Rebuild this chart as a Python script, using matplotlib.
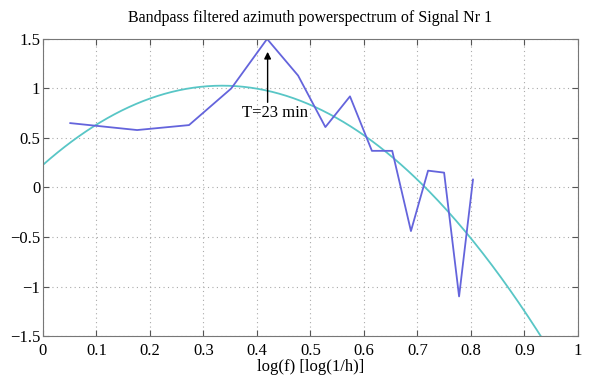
import numpy as np
import matplotlib
matplotlib.use('Agg')
import matplotlib.pyplot as plt

# blue line: spectrum values
logf = [0.051, 0.176, 0.273, 0.352, 0.419, 0.477, 0.528, 0.574, 0.615,
        0.653, 0.688, 0.720, 0.750, 0.778, 0.804]
power = [0.65, 0.58, 0.63, 1.00, 1.50, 1.13, 0.61, 0.92, 0.37,
         0.37, -0.44, 0.17, 0.15, -1.10, 0.08]

# cyan curve: smooth trend
trend_x = [0.0, 0.1, 0.2, 0.3, 0.4, 0.5, 0.6, 0.7, 0.8, 0.9, 0.933]
trend_y = [0.23, 0.63, 0.90, 1.02, 1.00, 0.84, 0.52, 0.08, -0.51, -1.27, -1.50]

xticks = [0, 0.1, 0.2, 0.3, 0.4, 0.5, 0.6, 0.7, 0.8, 0.9, 1]
xlabels = ['0', '0.1', '0.2', '0.3', '0.4', '0.5', '0.6', '0.7', '0.8', '0.9', '1']
yticks = [-1.5, -1, -0.5, 0, 0.5, 1, 1.5]
ylabels = ['\u22121.5', '\u22121', '\u22120.5', '0', '0.5', '1', '1.5']

plt.rcParams['font.family'] = ['Liberation Serif', 'DejaVu Serif']
plt.rcParams['font.size'] = 12

fig = plt.figure(figsize=(5.89, 3.78), dpi=100)
ax = fig.add_axes([0.073, 0.111, 0.908, 0.786])

# smooth trend through the sampled points
coef = np.polyfit(trend_x, trend_y, 2)
xs = np.linspace(0, 1, 300)
ax.plot(xs, np.polyval(coef, xs), color='#58c6c6', lw=1.3)
ax.plot(logf, power, color='#6464dc', lw=1.3)

# arrow + label
ax.annotate('', xy=(0.42, 1.37), xytext=(0.42, 0.86),
            arrowprops=dict(arrowstyle='-|>', color='k', lw=1.0,
                            mutation_scale=10, shrinkA=0, shrinkB=0))
ax.text(0.372, 0.75, 'T=23 min', ha='left', va='center', fontsize=12)

ax.set_xlim(0, 1)
ax.set_ylim(-1.5, 1.5)
ax.set_xticks(xticks)
ax.set_xticklabels(xlabels)
ax.set_yticks(yticks)
ax.set_yticklabels(ylabels)
ax.tick_params(direction='in', top=True, right=True, length=4,
               color='#555555')
ax.tick_params(axis='x', pad=5)
ax.tick_params(axis='y', pad=2)
ax.grid(True, linestyle=(0, (1, 3)), color='#aaaaaa', lw=0.8)
for s in ax.spines.values():
    s.set_color('#777777')

ax.set_title('Bandpass filtered azimuth powerspectrum of Signal Nr 1',
             fontsize=11.5, pad=12)
ax.set_xlabel('log(f) [log(1/h)]', labelpad=0)

fig.savefig('out.png', dpi=100)
